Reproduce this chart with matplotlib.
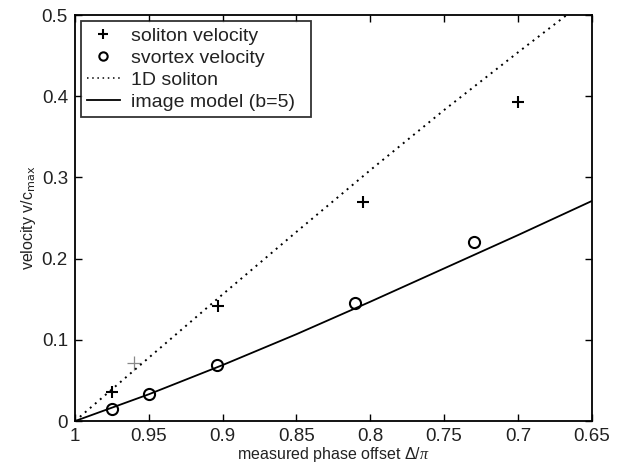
import numpy as np
import matplotlib
matplotlib.use('Agg')
import matplotlib.pyplot as plt
from matplotlib.lines import Line2D

# measured points (phase offset / pi, velocity / c_max)
sol_x = [0.975, 0.903, 0.805, 0.700]
sol_v = [0.036, 0.142, 0.270, 0.393]

extra_x = [0.960]
extra_v = [0.071]

vort_x = [0.975, 0.950, 0.904, 0.810, 0.730]
vort_v = [0.015, 0.033, 0.069, 0.145, 0.221]

# 1D soliton curve
sol1d_x = [1.0, 0.95, 0.90, 0.85, 0.80, 0.75, 0.70, 0.667, 0.65]
sol1d_v = [0.0, 0.078, 0.156, 0.233, 0.309, 0.383, 0.454, 0.500, 0.522]

# image model (b=5)
img_x = [1.0, 0.95, 0.90, 0.85, 0.80, 0.75, 0.70, 0.65]
img_v = [0.0, 0.033, 0.069, 0.107, 0.147, 0.188, 0.229, 0.271]

xticks = [1, 0.95, 0.9, 0.85, 0.8, 0.75, 0.7, 0.65]
xlabels = ['1', '0.95', '0.9', '0.85', '0.8', '0.75', '0.7', '0.65']
yticks = [0, 0.1, 0.2, 0.3, 0.4, 0.5]
ylabels = ['0', '0.1', '0.2', '0.3', '0.4', '0.5']

plt.rcParams['font.family'] = ['Liberation Sans', 'DejaVu Sans']
plt.rcParams['mathtext.fontset'] = 'custom'
plt.rcParams['mathtext.it'] = 'Liberation Serif:italic'

fig = plt.figure(figsize=(6.19, 4.70), dpi=100)
ax = fig.add_axes([0.121, 0.104, 0.835, 0.864])

ax.plot(sol_x, sol_v, '+', color='black', ms=9, mew=1.5)
ax.plot(extra_x, extra_v, '+', color='#888888', ms=10, mew=0.9)
ax.plot(vort_x, vort_v, 'o', mfc='none', mec='black', ms=8, mew=1.5)
ax.plot(sol1d_x, sol1d_v, color='black', lw=1.4, dashes=(1, 2.4))
ax.plot(img_x, img_v, '-', color='black', lw=1.3)

ax.set_xlim(1, 0.65)
ax.set_ylim(0, 0.5)
ax.set_xticks(xticks)
ax.set_xticklabels(xlabels)
ax.set_yticks(yticks)
ax.set_yticklabels(ylabels)
ax.tick_params(direction='in', top=True, right=True, length=5, width=1,
               labelsize=13.5, pad=5, labelcolor='#222222')
for s in ax.spines.values():
    s.set_linewidth(1.3)

ax.set_xlabel('measured phase offset Δ/$\\pi$', fontsize=11.5, labelpad=0, color='#222222')
ax.set_ylabel('velocity v/c$_{\\mathrm{max}}$', fontsize=11.5, labelpad=3, color='#222222')

# legend handles with small markers, like the original
handles = [
    Line2D([], [], ls='none', marker='+', color='black', ms=7, mew=1.5),
    Line2D([], [], ls='none', marker='o', mfc='none', mec='black', ms=6, mew=1.5),
    Line2D([], [], color='black', lw=1.1, dashes=(1, 2.4)),
    Line2D([], [], ls='-', color='black', lw=1.3),
]
names = ['soliton velocity', 'svortex velocity', '1D soliton', 'image model (b=5)  ']
leg = ax.legend(handles, names, loc='upper left', fontsize=14, frameon=True, fancybox=False,
                edgecolor='black', handlelength=1.7, borderpad=0.3,
                labelspacing=0.23, borderaxespad=0.32, handletextpad=0.55)
leg.get_frame().set_linewidth(1.3)
for t in leg.get_texts():
    t.set_color('#222222')

fig.savefig('out.png', dpi=100)
